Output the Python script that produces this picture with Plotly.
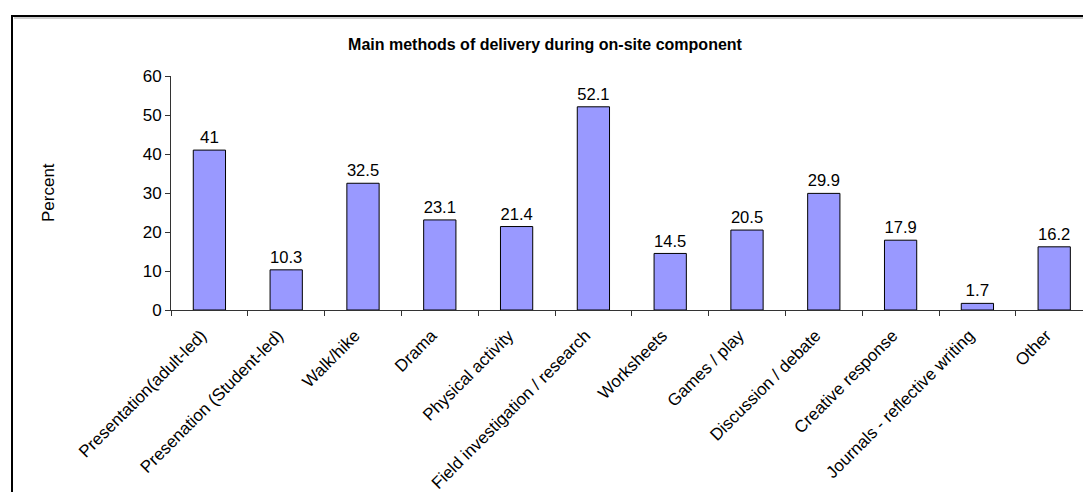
import plotly.graph_objects as go

categories = [
    "Presentation(adult-led)", "Presenation (Student-led)", "Walk/hike", "Drama",
    "Physical activity", "Field investigation / research", "Worksheets", "Games / play",
    "Discussion / debate", "Creative response", "Journals - reflective writing", "Other",
]
values = [41, 10.3, 32.5, 23.1, 21.4, 52.1, 14.5, 20.5, 29.9, 17.9, 1.7, 16.2]
labels = ["41", "10.3", "32.5", "23.1", "21.4", "52.1", "14.5", "20.5", "29.9", "17.9", "1.7", "16.2"]
y_ticks = [0, 10, 20, 30, 40, 50, 60]

OFF = 8  # page body margin
W, H = 1091 - OFF, 492 - OFF
L, T = 171 - OFF, 76 - OFF
R = 0
B = H - (310 - OFF)
pw = W - L - R
ph = H - T - B

def px_x(x):
    return (x - OFF - L) / pw

def px_y(y):
    return 1 - (y - OFF - T) / ph

FONT = "Liberation Sans, Arial"

fig = go.Figure()
fig.add_trace(go.Bar(
    x=categories, y=values, text=labels, textposition="outside",
    textfont=dict(family=FONT, size=17, color="black"),
    marker=dict(color="#9999FF", line=dict(color="black", width=1)),
    cliponaxis=False,
))

fig.update_layout(
    width=W, height=H,
    margin=dict(l=L, r=R, t=T, b=B, pad=0, autoexpand=False),
    paper_bgcolor="white", plot_bgcolor="white",
    bargap=0.58,
    showlegend=False,
    font=dict(family=FONT, size=17, color="black"),
    title=dict(text="<b>Main methods of delivery during on-site component</b>",
               x=(545 - OFF) / W, xref="container", xanchor="center",
               y=1 - (44 - OFF) / H, yanchor="middle",
               font=dict(size=16, color="black")),
    xaxis=dict(
        range=[-0.5, -0.5 + pw / 76.8], tickangle=-45, ticks="outside", tickson="boundaries",
        ticklen=5, tickcolor="#333", showline=True, linecolor="#333", linewidth=1,
        showgrid=False, tickfont=dict(size=17), fixedrange=True,
        ticklabelstandoff=8, ticklabelshift=-8, automargin=False,
    ),
    yaxis=dict(
        range=[0, 60], tickvals=y_ticks, ticks="outside", ticklen=5, tickcolor="#333",
        showline=True, linecolor="#333", linewidth=1, showgrid=False, zeroline=False,
        tickfont=dict(size=17), automargin=False,
    ),
    annotations=[
        dict(text="Percent", xref="paper", yref="paper", x=px_x(48), y=px_y(193),
             xanchor="center", yanchor="middle", textangle=-90, showarrow=False,
             font=dict(size=17, color="black")),
    ],
    shapes=[
        dict(type="rect", xref="paper", yref="paper",
             x0=px_x(12), x1=px_x(1300), y0=px_y(16), y1=px_y(800),
             line=dict(color="black", width=2), fillcolor="rgba(0,0,0,0)", layer="below"),
        dict(type="line", xref="paper", yref="paper",
             x0=px_x(14), x1=px_x(1300), y0=px_y(18), y1=px_y(18),
             line=dict(color="#999", width=1), layer="below"),
    ],
)

fig.write_html("out.html")
